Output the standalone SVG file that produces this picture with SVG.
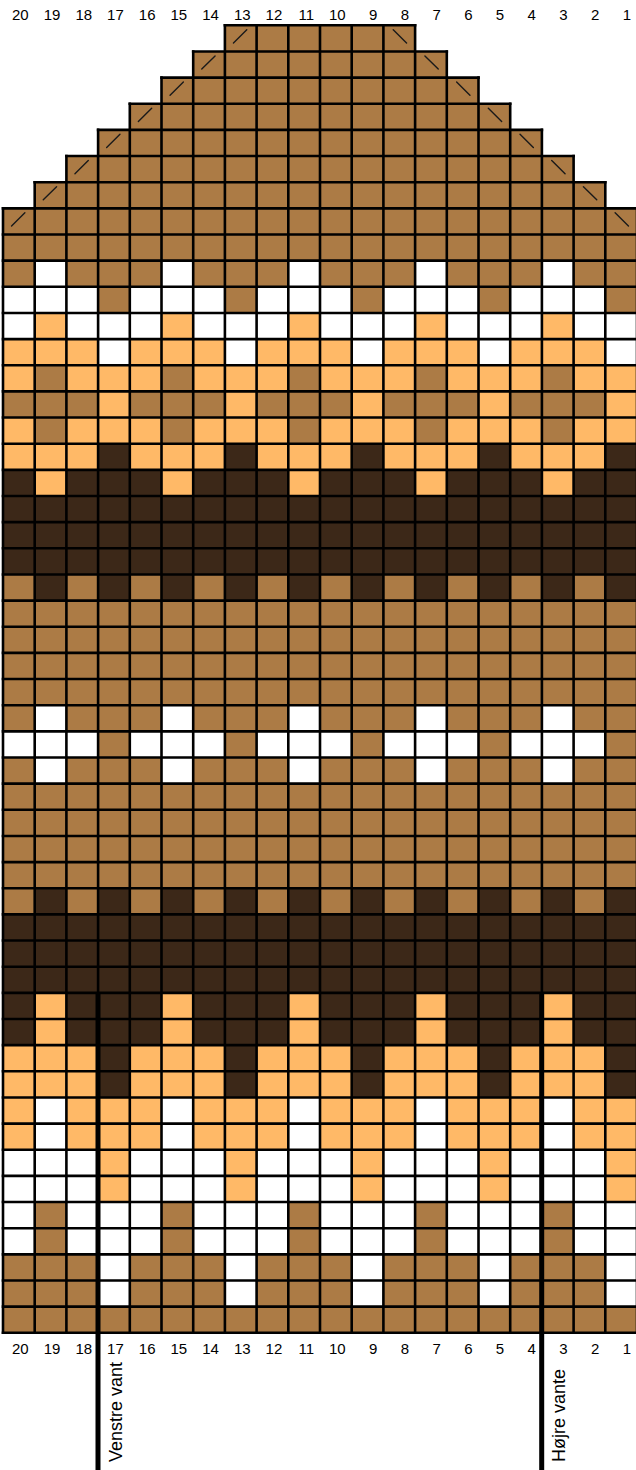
<svg xmlns="http://www.w3.org/2000/svg" xmlns:xlink="http://www.w3.org/1999/xlink" width="636" height="1470" viewBox="0 0 636 1470">
<style>
.b{fill:#AC7B45}
.o{fill:#FFB967}
.d{fill:#3C2818}
.w{fill:#FFFFFF}
.grid{fill:none;stroke:#000;stroke-width:2.6;stroke-linecap:square;vector-effect:non-scaling-stroke}
.dec{fill:none;stroke:#1a1a1a;stroke-width:1.4;stroke-linecap:round;vector-effect:non-scaling-stroke}
.num{font-family:"Liberation Sans",Arial,sans-serif;font-size:15px;fill:#000;text-anchor:end}
.lbl{font-family:"Liberation Sans",Arial,sans-serif;font-size:18px;fill:#000}
.mark{stroke:#000;stroke-width:5}
</style>
<defs>
<g id="p1"><rect x="1" width="1" height="1"/><rect x="5" width="1" height="1"/><rect x="9" width="1" height="1"/><rect x="13" width="1" height="1"/><rect x="17" width="1" height="1"/></g>
<g id="p2"><rect x="3" width="1" height="1"/><rect x="7" width="1" height="1"/><rect x="11" width="1" height="1"/><rect x="15" width="1" height="1"/><rect x="19" width="1" height="1"/></g>
<g id="ev"><rect x="0" width="1" height="1"/><rect x="2" width="1" height="1"/><rect x="4" width="1" height="1"/><rect x="6" width="1" height="1"/><rect x="8" width="1" height="1"/><rect x="10" width="1" height="1"/><rect x="12" width="1" height="1"/><rect x="14" width="1" height="1"/><rect x="16" width="1" height="1"/><rect x="18" width="1" height="1"/></g>
</defs>
<rect width="636" height="1470" fill="#fff"/>
<g id="chart" transform="translate(3 25.3) scale(31.7 26.15)">
<g id="cells">
<rect class="b" x="7" y="0" width="6" height="1"/>
<rect class="b" x="6" y="1" width="8" height="1"/>
<rect class="b" x="5" y="2" width="10" height="1"/>
<rect class="b" x="4" y="3" width="12" height="1"/>
<rect class="b" x="3" y="4" width="14" height="1"/>
<rect class="b" x="2" y="5" width="16" height="1"/>
<rect class="b" x="1" y="6" width="18" height="1"/>
<rect class="b" x="0" y="7" width="20" height="3"/>
<use href="#p1" y="9" class="w"/>
<rect class="w" x="0" y="10" width="20" height="2"/>
<use href="#p2" y="10" class="b"/>
<use href="#p1" y="11" class="o"/>
<rect class="o" x="0" y="12" width="20" height="2"/>
<use href="#p2" y="12" class="w"/>
<use href="#p1" y="13" class="b"/>
<rect class="b" x="0" y="14" width="20" height="1"/>
<use href="#p2" y="14" class="o"/>
<rect class="o" x="0" y="15" width="20" height="2"/>
<use href="#p1" y="15" class="b"/>
<use href="#p2" y="16" class="d"/>
<rect class="d" x="0" y="17" width="20" height="5"/>
<use href="#p1" y="17" class="o"/>
<use href="#ev" y="21" class="b"/>
<rect class="b" x="0" y="22" width="20" height="11"/>
<use href="#p1" y="26" class="w"/>
<rect class="w" x="0" y="27" width="20" height="1"/>
<use href="#p2" y="27" class="b"/>
<use href="#p1" y="28" class="w"/>
<rect class="d" x="0" y="33" width="20" height="6"/>
<use href="#ev" y="33" class="b"/>
<use href="#p1" y="37" class="o"/>
<use href="#p1" y="38" class="o"/>
<rect class="o" x="0" y="39" width="20" height="4"/>
<use href="#p2" y="39" class="d"/>
<use href="#p2" y="40" class="d"/>
<use href="#p1" y="41" class="w"/>
<use href="#p1" y="42" class="w"/>
<rect class="w" x="0" y="43" width="20" height="4"/>
<use href="#p2" y="43" class="o"/>
<use href="#p2" y="44" class="o"/>
<use href="#p1" y="45" class="b"/>
<use href="#p1" y="46" class="b"/>
<rect class="b" x="0" y="47" width="20" height="3"/>
<use href="#p2" y="47" class="w"/>
<use href="#p2" y="48" class="w"/>
</g>
<g id="grid">
<path class="grid" d="M7 0H13M6 1H14M5 2H15M4 3H16M3 4H17M2 5H18M1 6H19M0 7H20M0 8H20M0 9H20M0 10H20M0 11H20M0 12H20M0 13H20M0 14H20M0 15H20M0 16H20M0 17H20M0 18H20M0 19H20M0 20H20M0 21H20M0 22H20M0 23H20M0 24H20M0 25H20M0 26H20M0 27H20M0 28H20M0 29H20M0 30H20M0 31H20M0 32H20M0 33H20M0 34H20M0 35H20M0 36H20M0 37H20M0 38H20M0 39H20M0 40H20M0 41H20M0 42H20M0 43H20M0 44H20M0 45H20M0 46H20M0 47H20M0 48H20M0 49H20M0 50H20"/>
<path class="grid" d="M0 7V50M1 6V50M2 5V50M3 4V50M4 3V50M5 2V50M6 1V50M7 0V50M8 0V50M9 0V50M10 0V50M11 0V50M12 0V50M13 0V50M14 1V50M15 2V50M16 3V50M17 4V50M18 5V50M19 6V50M20 7V50"/>
</g>
<g id="decreases">
<path class="dec" d="M7.27 0.675L7.69 0.17M6.27 1.675L6.69 1.17M5.27 2.675L5.69 2.17M4.27 3.675L4.69 3.17M3.27 4.675L3.69 4.17M2.27 5.675L2.69 5.17M1.27 6.675L1.69 6.17M0.27 7.675L0.69 7.17"/>
<path class="dec" d="M12.31 0.17L12.73 0.675M13.31 1.17L13.73 1.675M14.31 2.17L14.73 2.675M15.31 3.17L15.73 3.675M16.31 4.17L16.73 4.675M17.31 5.17L17.73 5.675M18.31 6.17L18.73 6.675M19.31 7.17L19.73 7.675"/>
</g>
</g>
<g id="numbers-top" class="num">
<text x="28.7" y="20">20</text><text x="60.4" y="20">19</text><text x="92.1" y="20">18</text><text x="123.8" y="20">17</text><text x="155.5" y="20">16</text><text x="187.2" y="20">15</text><text x="218.9" y="20">14</text><text x="250.6" y="20">13</text><text x="282.3" y="20">12</text><text x="314" y="20">11</text><text x="345.7" y="20">10</text><text x="377.4" y="20">9</text><text x="409.1" y="20">8</text><text x="440.8" y="20">7</text><text x="472.5" y="20">6</text><text x="504.2" y="20">5</text><text x="535.9" y="20">4</text><text x="567.6" y="20">3</text><text x="599.3" y="20">2</text><text x="631" y="20">1</text>
</g>
<g id="numbers-bottom" class="num">
<text x="28.7" y="1353.5">20</text><text x="60.4" y="1353.5">19</text><text x="92.1" y="1353.5">18</text><text x="123.8" y="1353.5">17</text><text x="155.5" y="1353.5">16</text><text x="187.2" y="1353.5">15</text><text x="218.9" y="1353.5">14</text><text x="250.6" y="1353.5">13</text><text x="282.3" y="1353.5">12</text><text x="314" y="1353.5">11</text><text x="345.7" y="1353.5">10</text><text x="377.4" y="1353.5">9</text><text x="409.1" y="1353.5">8</text><text x="440.8" y="1353.5">7</text><text x="472.5" y="1353.5">6</text><text x="504.2" y="1353.5">5</text><text x="535.9" y="1353.5">4</text><text x="567.6" y="1353.5">3</text><text x="599.3" y="1353.5">2</text><text x="631" y="1353.5">1</text>
</g>
<g id="left-mitten">
<line class="mark" x1="98" y1="992" x2="98" y2="1470"/>
<text class="lbl" transform="translate(121.5 1462) rotate(-90)">Venstre vant</text>
</g>
<g id="right-mitten">
<line class="mark" x1="541.7" y1="992" x2="541.7" y2="1470"/>
<text class="lbl" transform="translate(564.5 1462) rotate(-90)">Højre vante</text>
</g>
</svg>
